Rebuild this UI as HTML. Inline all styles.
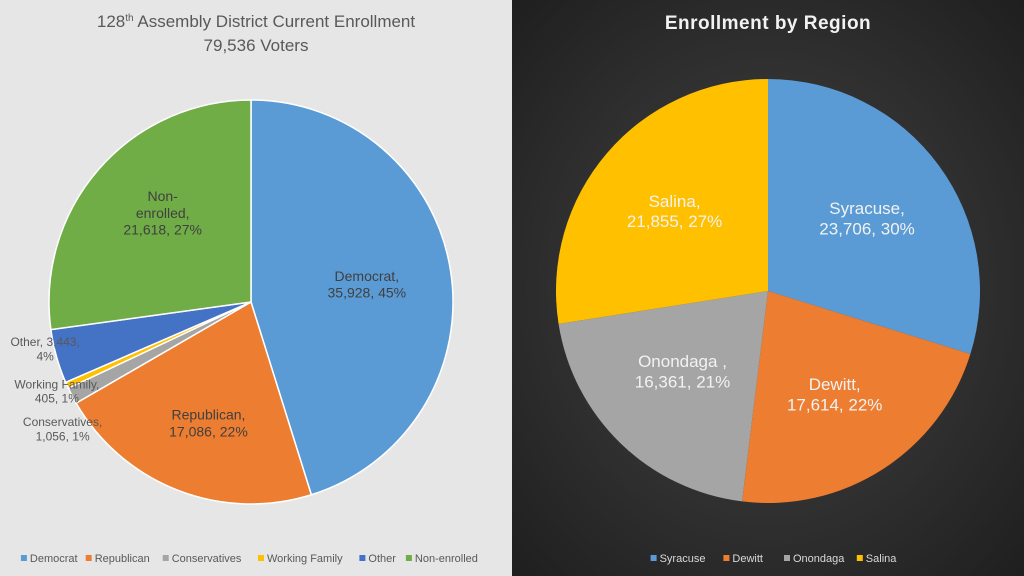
<!DOCTYPE html>
<html><head><meta charset="utf-8"><style>
html,body{margin:0;padding:0;width:1024px;height:576px;overflow:hidden;font-family:"Liberation Sans",sans-serif}
svg{display:block}
</style></head><body>
<svg id="s" width="1024" height="576" viewBox="0 0 1024 576">
<defs>
<radialGradient id="dg" cx="50%" cy="50%" r="70%">
<stop offset="0" stop-color="#454545"/><stop offset="1" stop-color="#1f1f1f"/>
</radialGradient>
</defs>
<rect x="0" y="0" width="512" height="576" fill="#e7e6e6"/>
<rect x="512" y="0" width="512" height="576" fill="url(#dg)"/>
<text x="256" y="27" text-anchor="middle" font-size="17" fill="#595959">128<tspan font-size="10" dy="-6">th</tspan><tspan dy="6"> Assembly District Current Enrollment</tspan></text>
<text x="256" y="51" text-anchor="middle" font-size="17" fill="#595959">79,536 Voters</text>
<text x="768" y="29" text-anchor="middle" font-size="19" font-weight="bold" fill="#f2f2f2" letter-spacing="0.5">Enrollment  by Region</text>
<g id="left"></g><g id="right"></g>
</svg>
<script>
const leftCategories = ["Democrat","Republican","Conservatives","Working Family","Other","Non-enrolled"];
const leftValues = [35928,17086,1056,405,3443,21618];
const leftLabels = [["Democrat,","35,928, 45%"],["Republican,","17,086, 22%"],["Conservatives,","1,056, 1%"],["Working Family,","405, 1%"],["Other, 3,443,","4%"],["Non-","enrolled,","21,618, 27%"]];
const leftColors = ["#5b9bd5","#ed7d31","#a5a5a5","#ffc000","#4472c4","#70ad47"];
const rightCategories = ["Syracuse","Dewitt","Onondaga","Salina"];
const rightValues = [23706,17614,16361,21855];
const rightLabels = [["Syracuse,","23,706, 30%"],["Dewitt,","17,614, 22%"],["Onondaga ,","16,361, 21%"],["Salina,","21,855, 27%"]];
const rightColors = ["#5b9bd5","#ed7d31","#a5a5a5","#ffc000"];
const NS="http://www.w3.org/2000/svg";
function mk(t,a,p){const e=document.createElementNS(NS,t);for(const k in a)e.setAttribute(k,a[k]);p.appendChild(e);return e;}
function pt(cx,cy,r,f){const a=f*2*Math.PI;return [cx+r*Math.sin(a),cy-r*Math.cos(a)];}
function pie(g,cx,cy,r,vals,cats,labels,cols,opt){
  const tot=vals.reduce((a,b)=>a+b,0);let acc=0;
  vals.forEach((v,i)=>{
    const f0=acc/tot,f1=(acc+v)/tot;acc+=v;
    const p0=pt(cx,cy,r,f0),p1=pt(cx,cy,r,f1);
    const big=(f1-f0)>0.5?1:0;
    const path=mk("path",{d:`M${cx},${cy}L${p0[0]},${p0[1]}A${r},${r} 0 ${big} 1 ${p1[0]},${p1[1]}Z`,fill:cols[i],stroke:opt.stroke,"stroke-width":opt.sw},g);
    
    
    const frac=(f1-f0);const mid=(f0+f1)/2;
    let lp,anchor="middle",fs=opt.fs,col=opt.lc;
    if(frac<0.06 && opt.outside){lp=pt(cx,cy,r*1.12,mid);fs=12;col="#595959";lp[0]=Math.min(lp[0],cx-r*0.96)+12;lp[1]+=opt.outOff[i]||0;}
    else {lp=pt(cx,cy,r*0.58,mid);lp[1]+=(opt.inOff[i]||0);}
    const lines=labels[i];const lh=fs*1.2;
    const t=mk("text",{x:lp[0],y:lp[1]-(lines.length-1)*lh/2+fs*0.35,"text-anchor":anchor,"font-size":fs,fill:col},g);
    
    
    lines.forEach((l,j)=>{const s=mk("tspan",{x:lp[0],dy:j?lh:0},t);s.textContent=l;});
  });
}
pie(document.getElementById("left"),251,302,202,leftValues,leftCategories,leftLabels,leftColors,{stroke:"#ffffff",sw:1.5,fs:14,lc:"#404040",outside:true,outOff:{2:22,3:-4,4:-14},inOff:{5:-12,1:12}});
pie(document.getElementById("right"),768,291,212,rightValues,rightCategories,rightLabels,rightColors,{stroke:"none",sw:0,fs:17,lc:"#f2f2f2",outside:false,outOff:{},inOff:{2:-8}});
function legend(cats,cols,cx,y,fill,gap){
  const g=mk("g",{},document.getElementById("s"));
  
  
  const widths=cats.map(c=>c.length*6.1+gap);const tot=widths.reduce((a,b)=>a+b,0);
  let x=cx-tot/2;
  cats.forEach((c,i)=>{
    const e=mk("g",{},g);
    
    
    mk("rect",{x:x,y:y-7,width:6,height:6,fill:cols[i]},e);
    const t=mk("text",{x:x+9,y:y,"font-size":11,fill:fill},e);t.textContent=c;
    x+=widths[i];
  });
}
legend(leftCategories,leftColors,258,562,"#595959",16);
legend(rightCategories,rightColors,784,562,"#d9d9d9",24);
</script>
</body></html>
